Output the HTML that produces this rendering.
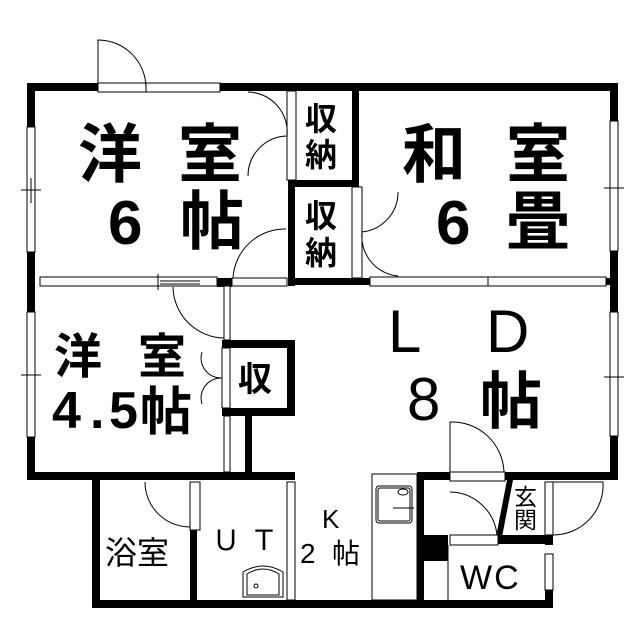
<!DOCTYPE html>
<html><head><meta charset="utf-8"><style>
html,body{margin:0;padding:0;background:#fff;}
svg{display:block}
text{font-family:"Liberation Sans","Noto Sans CJK JP",sans-serif;fill:#000}
.b{font-weight:bold}
</style></head><body>
<svg width="639" height="640" viewBox="0 0 639 640" xmlns="http://www.w3.org/2000/svg">
<g fill="#000">
<rect x="27" y="83" width="591" height="8"/>
<rect x="27" y="83" width="8" height="397"/>
<rect x="610" y="83" width="8" height="397"/>
<rect x="27" y="472" width="268" height="8"/>
<rect x="417" y="472" width="201" height="8"/>
<rect x="92" y="472" width="8" height="136"/>
<rect x="92" y="600" width="461" height="8"/>
<rect x="217" y="278" width="15" height="9"/>
<rect x="288" y="180" width="71" height="7"/>
<rect x="352" y="83" width="7" height="104"/>
<rect x="288" y="187" width="7" height="99"/>
<rect x="288" y="278" width="330" height="7"/>
<rect x="222" y="340" width="73" height="8"/>
<rect x="222" y="408" width="73" height="8"/>
<rect x="287" y="340" width="8" height="76"/>
<rect x="222" y="340" width="8" height="8"/>
<rect x="222" y="408" width="8" height="8"/>
<rect x="245" y="416" width="7" height="60"/>
<rect x="190" y="530" width="7" height="74"/>
<rect x="417" y="472" width="7" height="136"/>
<rect x="420" y="535" width="28" height="26"/>
<rect x="498" y="535" width="55" height="9"/>
<rect x="545" y="535" width="8" height="10"/>
<rect x="545" y="590" width="8" height="18"/>
<polygon points="507,480 513,480 502,537 496,537"/>
</g>
<g fill="#fff" stroke="#000" stroke-width="1">
<rect x="98" y="83" width="48" height="9"/>
<rect x="146" y="83" width="74" height="9"/>
<rect x="27" y="127" width="8" height="125"/>
<rect x="27" y="312" width="8" height="125"/>
<rect x="610" y="121" width="8" height="130"/>
<rect x="610" y="312" width="8" height="124"/>
<rect x="40" y="277" width="177" height="9"/>
<rect x="370" y="277" width="236" height="9"/>
<rect x="232" y="278" width="55" height="8"/>
<rect x="287" y="91" width="9" height="89"/>
<rect x="352" y="187" width="10" height="91"/>
<rect x="222" y="348" width="8" height="60"/>
<rect x="224" y="286" width="6" height="54"/>
<rect x="224" y="416" width="6" height="56"/>
<rect x="190" y="482" width="10" height="48"/>
<rect x="287" y="482" width="8" height="118"/>
<rect x="545" y="482" width="8" height="53"/>
<rect x="545" y="554" width="8" height="36"/>
<rect x="450" y="472" width="55" height="9"/>
<rect x="450" y="535" width="48" height="10"/>
<rect x="372" y="474" width="45" height="126"/>
<rect x="376" y="486" width="36" height="37" rx="3"/>
<rect x="378" y="488" width="32" height="33" rx="2"/>
<ellipse cx="403" cy="492" rx="5" ry="3"/>
<path d="M243,597 L243,572 Q263,560 283,572 L283,597 Z"/>
<path d="M247,595 L247,574 Q263,564 279,574 L279,595 Z"/>
<circle cx="256" cy="586" r="2"/>
<line x1="448" y1="545" x2="448" y2="600"/>
</g>
<g fill="none" stroke="#000" stroke-width="1">
<path d="M98,83 L98,40 A48,48 0 0 1 146,88"/>
<path d="M248,92 A40,40 0 0 1 287,136"/>
<path d="M248,176 A40,40 0 0 1 287,136"/>
<path d="M398,192 A40,40 0 0 1 362,232"/>
<path d="M398,276 A40,40 0 0 1 362,232"/>
<path d="M286,229 A52,52 0 0 0 233,278"/>
<path d="M173,287 A52,52 0 0 0 224,338"/>
<path d="M202,352 A20,20 0 0 0 222,378"/>
<path d="M202,404 A20,20 0 0 1 222,378"/>
<path d="M145,482 A45,45 0 0 0 190,527"/>
<path d="M450,472 L450,422 A52,52 0 0 1 504,472"/>
<path d="M450,492 A48,48 0 0 1 497,535"/>
<path d="M553,482 L603,482 A50,50 0 0 1 553,535"/>
</g>
<g stroke="#000" stroke-width="1">
<line x1="21" y1="190" x2="41" y2="190"/><line x1="31" y1="178" x2="31" y2="203"/>
<line x1="21" y1="375" x2="41" y2="375"/>
<line x1="604" y1="188" x2="624" y2="188"/>
<line x1="604" y1="377" x2="624" y2="377"/>
<line x1="160" y1="281" x2="200" y2="281"/><line x1="160" y1="284" x2="200" y2="284"/><line x1="158" y1="274" x2="158" y2="290"/>
<line x1="488" y1="277" x2="488" y2="286"/>
<line x1="393" y1="508" x2="414" y2="508"/>
</g>
<text class="b" x="78" y="177" font-size="64">洋</text>
<text class="b" x="178" y="177" font-size="64">室</text>
<text class="b" x="108" y="244" font-size="62">6</text>
<text class="b" x="180" y="244" font-size="64">帖</text>
<text class="b" x="402" y="177" font-size="64">和</text>
<text class="b" x="506" y="177" font-size="64">室</text>
<text class="b" x="436" y="244" font-size="62">6</text>
<text class="b" x="506" y="244" font-size="64">畳</text>
<text x="388" y="352" font-size="60">L</text>
<text x="486" y="352" font-size="60">D</text>
<text x="407" y="420" font-size="60">8</text>
<text class="b" x="480" y="423" font-size="62">帖</text>
<text class="b" x="54" y="373" font-size="48">洋</text>
<text class="b" x="138" y="373" font-size="48">室</text>
<text class="b" x="52" y="428" font-size="52">4</text>
<text class="b" x="90" y="428" font-size="52">.</text>
<text class="b" x="109" y="428" font-size="52">5</text>
<text class="b" x="140" y="430" font-size="52">帖</text>
<text class="b" x="238" y="391" font-size="34">収</text>
<text class="b" x="305" y="130" font-size="32">収</text>
<text class="b" x="305" y="166" font-size="32">納</text>
<text class="b" x="305" y="227" font-size="32">収</text>
<text class="b" x="305" y="264" font-size="32">納</text>
<text x="105" y="564" font-size="32">浴室</text>
<text x="212" y="550" font-size="28" letter-spacing="10">ＵＴ</text>
<text x="322" y="528" font-size="26">K</text>
<text x="300" y="563" font-size="28">2</text>
<text x="332" y="563" font-size="28">帖</text>
<text x="514" y="505" font-size="23">玄</text>
<text x="514" y="528" font-size="23">関</text>
<text x="460" y="589" font-size="34" letter-spacing="2">WC</text>
</svg>
</body></html>
